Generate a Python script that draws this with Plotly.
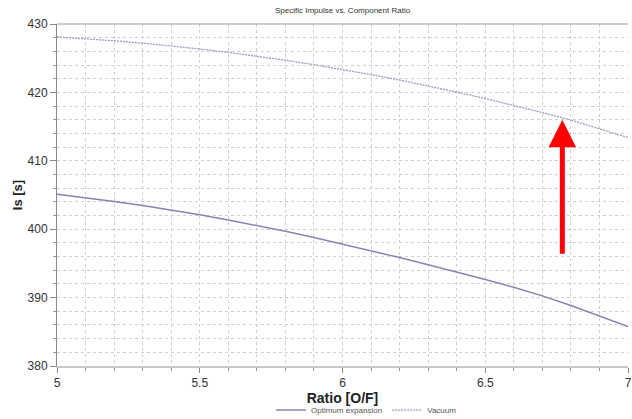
import plotly.graph_objects as go

ratio = [5.0, 5.1, 5.2, 5.3, 5.4, 5.5, 5.6, 5.7, 5.8, 5.9, 6.0,
         6.1, 6.2, 6.3, 6.4, 6.5, 6.6, 6.7, 6.8, 6.9, 7.0]
vacuum = [428.10, 427.85, 427.55, 427.20, 426.80, 426.35, 425.85, 425.30, 424.70, 424.05, 423.35,
          422.60, 421.80, 420.95, 420.05, 419.10, 418.10, 417.05, 415.95, 414.70, 413.40]
optimum = [405.10, 404.60, 404.05, 403.45, 402.80, 402.10, 401.35, 400.55, 399.70, 398.80, 397.85,
           396.85, 395.85, 394.80, 393.75, 392.65, 391.50, 390.25, 388.85, 387.35, 385.75]

arrow_x = 6.77
arrow_from = 396.2
arrow_to = 416.0

line_color = "#8585b5"

fig = go.Figure()
fig.add_trace(go.Scatter(x=ratio, y=optimum, mode="lines", name="Optimum expansion",
                         line=dict(color=line_color, width=1.5)))
fig.add_trace(go.Scatter(x=ratio, y=vacuum, mode="lines", name="Vacuum",
                         line=dict(color="#9a9ac0", width=1.3, dash="2px,1px")))

fig.add_annotation(x=arrow_x, y=arrow_to, ax=arrow_x, ay=arrow_from,
                   xref="x", yref="y", axref="x", ayref="y",
                   showarrow=True, arrowhead=2, arrowsize=1.1, arrowwidth=5,
                   arrowcolor="#ff0000", text="", standoff=0)

grid = dict(showgrid=True, gridcolor="#cfcfcf", griddash="dot", gridwidth=1)

fig.update_layout(
    width=632, height=419,
    margin=dict(l=57, r=4, t=24, b=53, autoexpand=False),
    paper_bgcolor="white", plot_bgcolor="white",
    font=dict(family="Liberation Sans, Arial, sans-serif", color="#333333"),
    title=dict(text="Specific Impulse vs. Component Ratio", x=0.542, xanchor="center",
               y=0.975, yanchor="middle", font=dict(size=8, color="#333333")),
    showlegend=True,
    legend=dict(orientation="h", x=0.542, xanchor="center", y=-0.129, yanchor="middle",
                font=dict(size=8, color="#555555"), itemwidth=30,
                bgcolor="rgba(0,0,0,0)"),
    xaxis=dict(range=[5, 7], dtick=0.5, tick0=5, tickvals=[5, 5.5, 6, 6.5, 7],
               ticktext=["5", "5.5", "6", "6.5", "7"],
               ticks="outside", ticklen=5, tickcolor="#888888",
               tickfont=dict(size=12, color="#333333"),
               showline=True, linecolor="#c8c8c8", linewidth=2, mirror=False,
               zeroline=False,
               minor=dict(dtick=0.1, tick0=5, ticks="outside", ticklen=3, tickcolor="#999999",
                          showgrid=True, gridcolor="#cfcfcf", griddash="dot"),
               title=dict(text="<b>Ratio [O/F]</b>", font=dict(size=14, color="#222222"),
                          standoff=3),
               **grid),
    yaxis=dict(range=[380, 430], dtick=10, tick0=380,
               ticks="outside", ticklen=6, tickcolor="#888888",
               tickfont=dict(size=12, color="#333333"),
               showline=True, linecolor="#888888", linewidth=1, mirror=False,
               zeroline=False,
               minor=dict(dtick=2, tick0=380, ticks="outside", ticklen=3, tickcolor="#999999",
                          showgrid=True, gridcolor="#cfcfcf", griddash="dot"),
               title=dict(text="<b>Is [s]</b>", font=dict(size=13, color="#222222"),
                          standoff=2),
               **grid),
)

fig.add_shape(type="line", xref="paper", yref="paper", x0=0, x1=1, y0=1, y1=1,
              line=dict(color="#999999", width=1))

fig.write_html("out.html")
